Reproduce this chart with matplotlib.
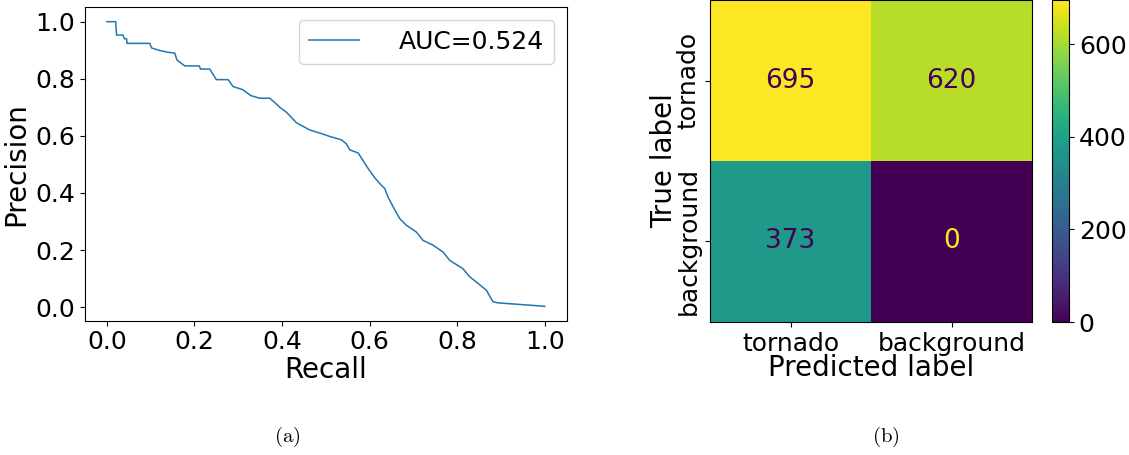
import matplotlib.pyplot as plt
import numpy as np

# precision-recall curve
recall = [0.0, 0.02, 0.022, 0.037, 0.04, 0.045, 0.046, 0.098, 0.102, 0.121,
          0.139, 0.155, 0.16, 0.178, 0.211, 0.214, 0.235, 0.25, 0.277, 0.288,
          0.31, 0.329, 0.349, 0.372, 0.384, 0.395, 0.41, 0.433, 0.463, 0.486,
          0.509, 0.536, 0.547, 0.555, 0.574, 0.585, 0.597, 0.612, 0.625, 0.635,
          0.642, 0.654, 0.669, 0.684, 0.707, 0.722, 0.745, 0.768, 0.783, 0.813,
          0.829, 0.844, 0.867, 0.882, 0.893, 1.0]
precision = [1.0, 1.0, 0.953, 0.953, 0.94, 0.94, 0.924, 0.924, 0.908, 0.899,
             0.893, 0.89, 0.866, 0.845, 0.845, 0.834, 0.834, 0.797, 0.797, 0.773,
             0.762, 0.741, 0.732, 0.732, 0.716, 0.70, 0.683, 0.646, 0.621, 0.61,
             0.598, 0.586, 0.572, 0.551, 0.54, 0.514, 0.485, 0.453, 0.43, 0.415,
             0.386, 0.351, 0.31, 0.287, 0.263, 0.234, 0.217, 0.193, 0.164, 0.135,
             0.106, 0.088, 0.059, 0.019, 0.015, 0.003]
auc_label = "AUC=0.524"

# confusion matrix
classes = ["tornado", "background"]
cm = np.array([[695, 620],
               [373, 0]])

plt.rcParams['mathtext.fontset'] = 'cm'

fig = plt.figure(figsize=(11.29, 4.55), dpi=100)

# (a) precision-recall
ax1 = fig.add_axes([0.0753, 0.2956, 0.4265, 0.688])
ax1.plot(recall, precision, color='#1f77b4', linewidth=1.1, label=auc_label)
ax1.set_xlabel("Recall", fontsize=20, labelpad=1)
ax1.set_ylabel("Precision", fontsize=20)
ax1.tick_params(labelsize=18)
ax1.set_xticks([0.0, 0.2, 0.4, 0.6, 0.8, 1.0])
ax1.set_yticks([0.0, 0.2, 0.4, 0.6, 0.8, 1.0])
ax1.legend(loc='upper right', fontsize=18, handletextpad=1.6)

# (b) confusion matrix
ax2 = fig.add_axes([0.6289, 0.2923, 0.2852, 0.7077])
im = ax2.imshow(cm, cmap='viridis', interpolation='nearest')
cmap = plt.get_cmap('viridis')
thresh = (cm.max() + cm.min()) / 2.0
for i in range(cm.shape[0]):
    for j in range(cm.shape[1]):
        col = cmap(1.0) if cm[i, j] < thresh else cmap(0.0)
        ax2.text(j, i, str(cm[i, j]), ha='center', va='center',
                 color=col, fontsize=19)
ax2.set_xticks(range(len(classes)))
ax2.set_xticklabels(classes, fontsize=18)
ax2.set_yticks(range(len(classes)))
ax2.set_yticklabels(classes, fontsize=18, rotation=90, va='center')
ax2.set_xlabel("Predicted label", fontsize=20, labelpad=-1)
ax2.set_ylabel("True label", fontsize=20, labelpad=-1)

cax = fig.add_axes([0.9318, 0.2923, 0.0151, 0.7077])
cb = fig.colorbar(im, cax=cax)
cb.set_ticks([0, 200, 400, 600])
cb.ax.tick_params(labelsize=18)
cb.outline.set_linewidth(0.8)

fig.text(0.254, 0.04, r'$\mathrm{(a)}$', ha='center', va='center', fontsize=15)
fig.text(0.785, 0.04, r'$\mathrm{(b)}$', ha='center', va='center', fontsize=15)

plt.savefig('out.png', dpi=100)
